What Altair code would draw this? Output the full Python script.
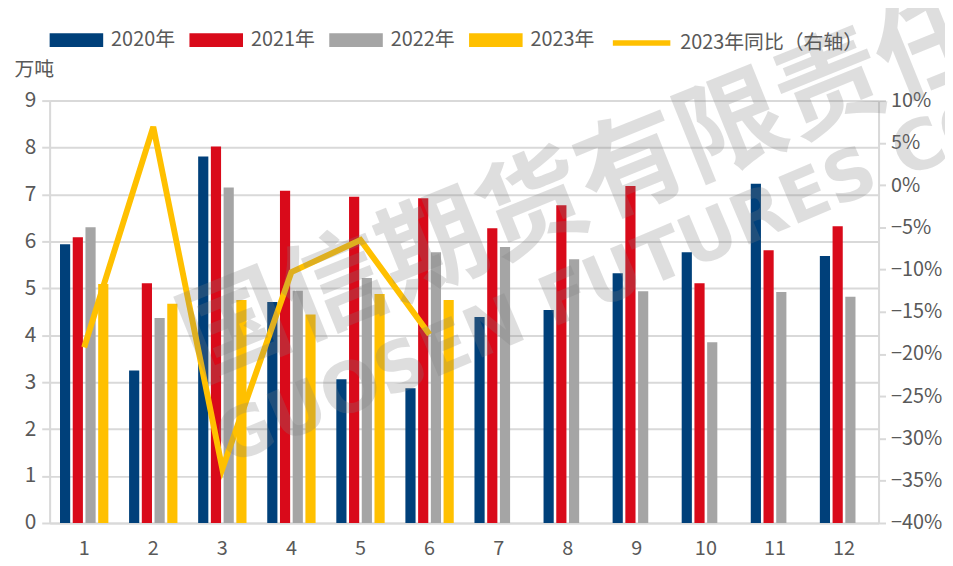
import altair as alt
import pandas as pd

months = [str(i) for i in range(1, 13)]
years = ["2020年", "2021年", "2022年", "2023年"]
v2020 = [5.94, 3.25, 7.81, 4.71, 3.06, 2.87, 4.39, 4.54, 5.32, 5.77, 7.23, 5.69]
v2021 = [6.09, 5.11, 8.02, 7.08, 6.95, 6.92, 6.28, 6.77, 7.18, 5.11, 5.81, 6.32]
v2022 = [6.30, 4.37, 7.15, 4.95, 5.22, 5.77, 5.88, 5.62, 4.94, 3.85, 4.92, 4.82]
v2023 = [5.09, 4.67, 4.75, 4.44, 4.88, 4.75]
yoy2023 = [-0.192, 0.069, -0.336, -0.103, -0.065, -0.177]
line_name = "2023年同比（右轴）"
watermark_cn = ["国信期货有限责任公司"]
watermark_en = ["GUOSEN FUTURES CO"]
colors = ["#00407A", "#D90A1A", "#A5A5A5", "#FFC000"]
FONT = "Noto Sans CJK SC"
TXT = "#595959"
GRID = "#d9d9d9"

rows = []
for yname, vals in zip(years, [v2020, v2021, v2022, v2023]):
    for m, v in zip(months, vals):
        rows.append({"month": m, "year": yname, "value": v})
bars_df = pd.DataFrame(rows)
line_df = pd.DataFrame({"month": months[:len(yoy2023)], "yoy": yoy2023, "series": line_name})

x_enc = alt.X("month:N", sort=months, title=None,
              scale=alt.Scale(paddingInner=0.3, paddingOuter=0.15),
              axis=alt.Axis(labelAngle=0, labelFontSize=20, labelColor=TXT, labelFont=FONT,
                            ticks=False, labelPadding=16, domainColor=GRID, domainWidth=2,
                            grid=False))

bars = alt.Chart(bars_df).mark_bar().encode(
    x=x_enc,
    xOffset=alt.XOffset("year:N", sort=years, scale=alt.Scale(paddingInner=0.2, paddingOuter=0)),
    y=alt.Y("value:Q", scale=alt.Scale(domain=[0, 9], nice=False),
            axis=alt.Axis(values=list(range(0, 10)), title="万吨", titleAngle=0, titleAlign="left",
                          titleBaseline="middle", titleX=-36, titleY=-31, titleFontSize=20,
                          titleFontWeight="normal", titleColor=TXT, titleFont=FONT,
                          labelFontSize=21, labelColor=TXT, labelFont=FONT, labelPadding=6,
                          tickSize=8, tickColor=GRID, tickWidth=2, domainColor=GRID, domainWidth=2,
                          gridColor=GRID, gridWidth=2)),
    color=alt.Color("year:N", sort=years, scale=alt.Scale(domain=years, range=colors),
                    legend=alt.Legend(orient="none", legendX=0, legendY=-88, direction="horizontal",
                                      title=None, symbolType="M-1,-0.26H1V0.26H-1Z", symbolSize=2916,
                                      symbolStrokeWidth=0, labelFontSize=20, labelFont=FONT,
                                      labelColor=TXT, labelOffset=8, columnPadding=14, padding=0)),
)

line = alt.Chart(line_df).mark_line(strokeWidth=6, strokeJoin="miter").encode(
    x=alt.X("month:N", sort=months),
    y=alt.Y("yoy:Q", scale=alt.Scale(domain=[-0.4, 0.1], nice=False),
            axis=alt.Axis(orient="right", format=".0%", values=[i / 100 for i in range(-40, 11, 5)],
                          title=None, labelFontSize=20, labelColor=TXT, labelFont=FONT,
                          labelPadding=5, tickSize=7, tickColor=GRID, tickWidth=2,
                          domainColor=GRID, domainWidth=2, grid=False)),
    stroke=alt.Stroke("series:N", scale=alt.Scale(domain=[line_name], range=["#FFC000"]),
                      legend=alt.Legend(orient="none", legendX=565, legendY=-90, title=None,
                                        symbolType="stroke", symbolSize=3364, symbolStrokeWidth=5.5,
                                        labelFontSize=20, labelFont=FONT, labelColor=TXT,
                                        labelLimit=400, labelOffset=7, padding=0)),
)

wm1 = alt.Chart(pd.DataFrame({"t": watermark_cn})).mark_text(
    angle=338, align="left", baseline="alphabetic", fontSize=108, font=FONT, fontWeight="bold",
    color="#7f7f7f", opacity=0.25).encode(x=alt.value(150), y=alt.value(282), text="t:N")
wm2 = alt.Chart(pd.DataFrame({"t": watermark_en})).mark_text(
    angle=337, align="left", baseline="alphabetic", fontSize=70, font="DejaVu Sans",
    fontWeight="bold", color="#7f7f7f", opacity=0.25).encode(
    x=alt.value(180), y=alt.value(368), text="t:N")

chart = alt.layer(bars, line, wm1, wm2).resolve_scale(y="independent").properties(
    width=836, height=426,
    autosize=alt.AutoSizeParams(type="none"),
    padding={"left": 42, "top": 91, "right": 67, "bottom": 41},
).configure_view(stroke=None).configure(background="white")

chart.save("out.html", embed_options={"renderer": "svg", "actions": False})
